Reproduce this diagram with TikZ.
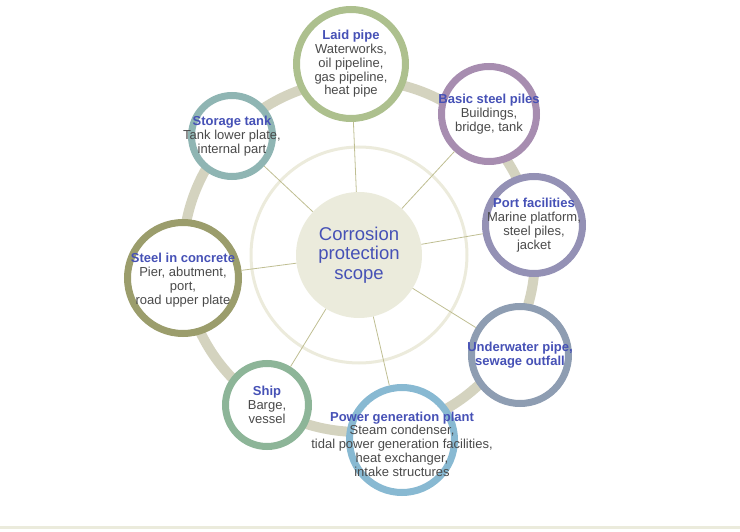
\documentclass[tikz,border=0pt]{standalone}
\usepackage{fontspec}
\setmainfont{Liberation Sans}
\definecolor{ringgray}{HTML}{D4D3BF}
\definecolor{innerring}{HTML}{ECEBDC}
\definecolor{hubfill}{HTML}{EBEBDC}
\definecolor{spokecol}{HTML}{BFBE92}
\definecolor{titleblue}{HTML}{4651B6}
\definecolor{bodygray}{HTML}{4A4A4A}
\definecolor{laidgreen}{HTML}{ADC08E}
\definecolor{pilemauve}{HTML}{A78DB0}
\definecolor{portlav}{HTML}{9491B5}
\definecolor{waterslate}{HTML}{8E9DB2}
\definecolor{powerblue}{HTML}{88B9D2}
\definecolor{shipsage}{HTML}{8DB598}
\definecolor{concolive}{HTML}{9B9D6C}
\definecolor{tankteal}{HTML}{8FB5B3}
\newcommand{\itemtitle}[1]{{\bfseries\color{titleblue}#1}}
\begin{document}
\begin{tikzpicture}[x=1pt,y=-1pt,
    item/.style={circle,draw,fill=white,line width=7pt,inner sep=0pt,outer sep=3.5pt},
    desc/.style={align=center,text=bodygray,inner sep=0pt,
        font=\fontsize{13}{13.8}\selectfont},
    spoke/.style={draw=spokecol,line width=0.8pt}]
    \tikzstyle{hub}=[circle,fill=hubfill,minimum size=126pt,inner sep=0pt,
        text=titleblue,align=center,font=\fontsize{18.5}{19.5}\selectfont]

    \useasboundingbox (0,0) rectangle (740,532);
    \draw[hubfill,line width=3pt] (0,527) -- (740,527);

    % rings
    \draw[ringgray,line width=10pt] (359,256) circle[radius=176pt];
    \draw[innerring,line width=3pt] (359,255) circle[radius=108pt];

    \node[hub] (hub) at (359,255) {Corrosion\\protection\\scope};

    \node[item,draw=laidgreen,minimum size=109pt] (laid) at (351,64) {};
    \node[item,draw=pilemauve,minimum size=95pt] (piles) at (489,114) {};
    \node[item,draw=portlav,minimum size=97pt] (port) at (534,225) {};
    \node[item,draw=waterslate,minimum size=97pt] (water) at (520,355) {};
    \node[item,draw=powerblue,minimum size=105pt] (power) at (402,440) {};
    \node[item,draw=shipsage,minimum size=83pt] (ship) at (267,405) {};
    \node[item,draw=concolive,minimum size=111pt] (concrete) at (183,278) {};
    \node[item,draw=tankteal,minimum size=81pt] (tank) at (232,136) {};

    \foreach \n in {laid,piles,port,water,power,ship,concrete,tank}
        \draw[spoke] (hub) -- (\n);

    \node[desc] (laid-t) at (laid) {\itemtitle{Laid pipe}\\Waterworks,\\oil pipeline,\\gas pipeline,\\heat pipe};
    \node[desc] (piles-t) at (piles) {\itemtitle{Basic steel piles}\\Buildings,\\bridge, tank};
    \node[desc] (port-t) at (port) {\itemtitle{Port facilities}\\Marine platform,\\steel piles,\\jacket};
    \node[desc] (water-t) at (water) {\itemtitle{Underwater pipe,}\\\itemtitle{sewage outfall}};
    \node[desc] (power-t) at (402,444) {\itemtitle{Power generation plant}\\Steam condenser,\\tidal power generation facilities,\\heat exchanger,\\intake structures};
    \node[desc] (ship-t) at (ship) {\itemtitle{Ship}\\Barge,\\vessel};
    \node[desc] (concrete-t) at (183,280) {\itemtitle{Steel in concrete}\\Pier, abutment,\\port,\\road upper plate};
    \node[desc] (tank-t) at (tank) {\itemtitle{Storage tank}\\Tank lower plate,\\internal part};

\end{tikzpicture}
\end{document}
